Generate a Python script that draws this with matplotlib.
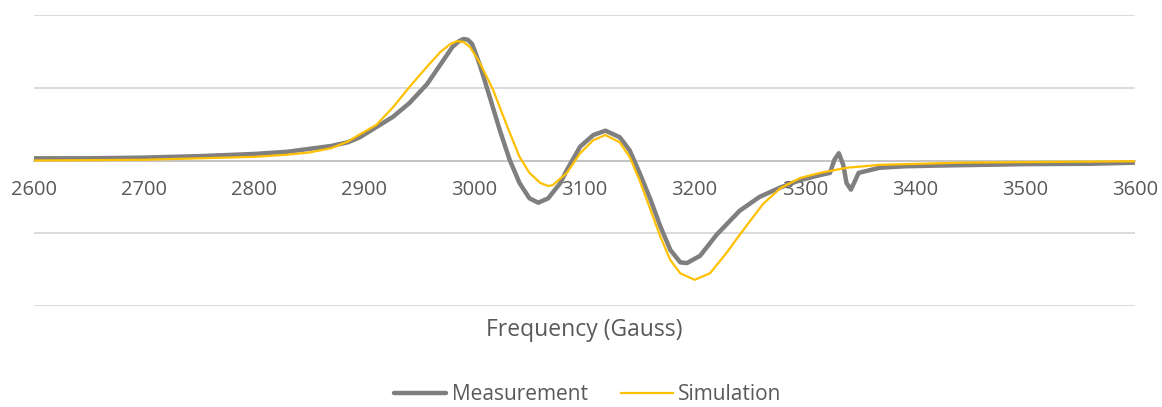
import matplotlib
matplotlib.use('Agg')
import matplotlib.pyplot as plt

# measured spectrum (Gauss, signal)
meas_x = [2600, 2650, 2700, 2750, 2800, 2830, 2850, 2870, 2885, 2896,
          2911, 2926, 2941, 2957, 2971, 2980, 2986, 2990, 2994, 2998,
          3005, 3014, 3023, 3032, 3041, 3050, 3058, 3067, 3078, 3084,
          3096, 3108, 3119, 3132, 3141, 3150, 3160, 3169, 3178, 3187,
          3193, 3205, 3220, 3241, 3259, 3278, 3296, 3314, 3323, 3327,
          3331, 3335, 3338, 3342, 3346, 3349, 3368, 3390, 3420, 3460,
          3500, 3560, 3600]
meas_y = [0.03, 0.03, 0.04, 0.06, 0.09, 0.12, 0.16, 0.20, 0.25, 0.32,
          0.46, 0.60, 0.79, 1.05, 1.36, 1.56, 1.64, 1.67, 1.66, 1.60,
          1.31, 0.87, 0.42, 0.01, -0.31, -0.52, -0.58, -0.52, -0.31, -0.13,
          0.19, 0.35, 0.41, 0.32, 0.14, -0.17, -0.54, -0.91, -1.23, -1.40,
          -1.41, -1.31, -1.02, -0.69, -0.50, -0.37, -0.27, -0.20, -0.17, 0.01,
          0.10, -0.06, -0.31, -0.40, -0.27, -0.17, -0.10, -0.08, -0.07, -0.06,
          -0.05, -0.045, -0.03]

# simulated spectrum
sim_x = [2600, 2700, 2750, 2800, 2830, 2850, 2870, 2885, 2896, 2911,
         2926, 2941, 2957, 2969, 2978, 2984, 2990, 2996, 3005, 3017,
         3030, 3041, 3050, 3060, 3067, 3071, 3084, 3096, 3108, 3119,
         3132, 3141, 3150, 3160, 3169, 3178, 3187, 3200, 3214, 3229,
         3241, 3248, 3262, 3278, 3296, 3314, 3338, 3368, 3441, 3520, 3600]
sim_y = [0.0, 0.01, 0.03, 0.05, 0.08, 0.11, 0.17, 0.26, 0.36, 0.49,
         0.73, 1.01, 1.29, 1.49, 1.60, 1.64, 1.63, 1.56, 1.34, 0.97,
         0.46, 0.05, -0.17, -0.31, -0.35, -0.34, -0.17, 0.10, 0.28, 0.35,
         0.25, 0.05, -0.27, -0.68, -1.05, -1.37, -1.55, -1.64, -1.55, -1.27,
         -1.02, -0.88, -0.60, -0.38, -0.24, -0.17, -0.10, -0.06, -0.03, -0.02, -0.01]

xticks = [2600, 2700, 2800, 2900, 3000, 3100, 3200, 3300, 3400, 3500, 3600]

txt = '#595959'
plt.rcParams['font.family'] = ['Open Sans', 'DejaVu Sans']

fig = plt.figure(figsize=(11.62, 4.07), dpi=100)
ax = fig.add_axes([34/1162, 1-306/407, 1101/1162, 291/407])

ax.plot(meas_x, meas_y, color='#7f7f7f', lw=3.2, label='Measurement',
        solid_capstyle='round', solid_joinstyle='round', zorder=3)
ax.plot(sim_x, sim_y, color='#ffc000', lw=1.6, label='Simulation',
        solid_joinstyle='round', zorder=4)

ax.set_xlim(2600, 3600)
ax.set_ylim(-2, 2)
ax.set_yticks([-2, -1, 1, 2])
ax.set_yticklabels([])
ax.yaxis.grid(True, color='#d9d9d9', lw=1.3)
ax.tick_params(axis='y', length=0)
ax.set_axisbelow(True)

for s in ['top', 'left', 'right']:
    ax.spines[s].set_visible(False)
ax.spines['bottom'].set_position(('data', 0))
ax.spines['bottom'].set_color('#bfbfbf')
ax.spines['bottom'].set_linewidth(1.3)
ax.spines['bottom'].set_zorder(1)

ax.set_xticks(xticks)
ax.set_xticklabels([str(t) for t in xticks])
ax.tick_params(axis='x', length=0, pad=14, labelsize=14.5, labelcolor=txt)

fig.text(584.5/1162, 1-330/407, 'Frequency (Gauss)', ha='center', va='center',
         fontsize=16.5, color=txt)

fig.legend(loc='center', bbox_to_anchor=(588/1162, 1-395/407), ncol=2, frameon=False,
           fontsize=15, labelcolor=txt, handlelength=2.5, handletextpad=0.25,
           columnspacing=1.6)

fig.savefig('out.png', dpi=100)
